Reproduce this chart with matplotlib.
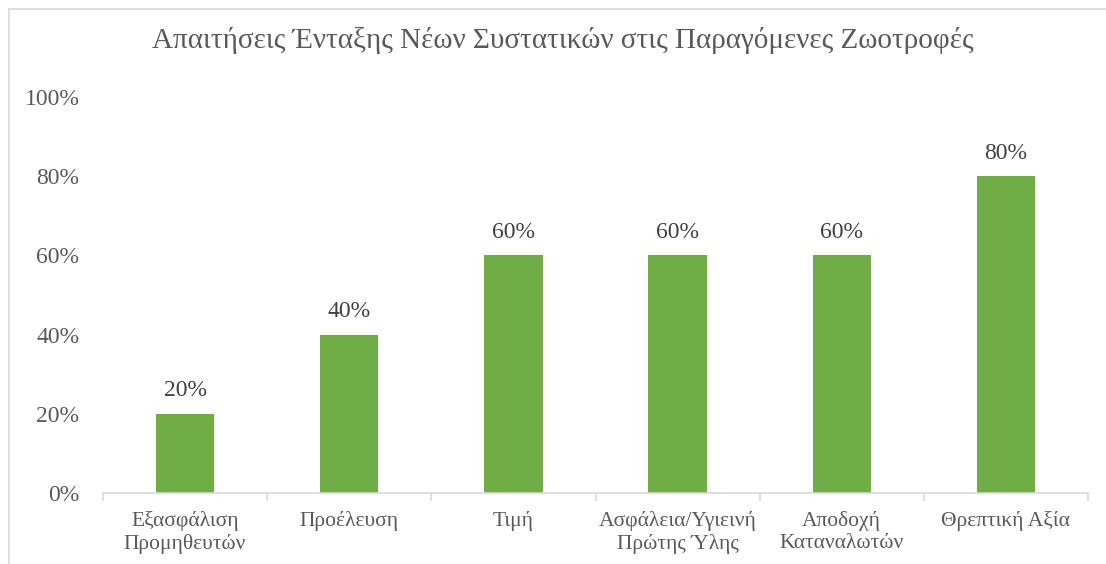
import matplotlib
matplotlib.use("Agg")
import matplotlib.pyplot as plt
from matplotlib.lines import Line2D
from matplotlib.ticker import FixedLocator

categories = [
    "Εξασφάλιση\nΠρομηθευτών",
    "Προέλευση",
    "Τιμή",
    "Ασφάλεια/Υγιεινή\nΠρώτης Ύλης",
    "Αποδοχή\nΚαταναλωτών",
    "Θρεπτική Αξία",
]
values = [0.20, 0.40, 0.60, 0.60, 0.60, 0.80]
y_ticks = [0.0, 0.2, 0.4, 0.6, 0.8, 1.0]
y_tick_labels = ["0%", "20%", "40%", "60%", "80%", "100%"]
title = "Απαιτήσεις Ένταξης Νέων Συστατικών στις Παραγόμενες Ζωοτροφές"

plt.rcParams["font.family"] = ["Liberation Serif", "DejaVu Serif"]

W, H = 1106, 564
fig = plt.figure(figsize=(W / 100, H / 100), dpi=100)
fig.patch.set_facecolor("white")

# chart-area frame (top and left edges visible)
fig.add_artist(Line2D([9 / W, 9 / W], [0, 1 - 9 / H], transform=fig.transFigure,
                      color="#d9d9d9", lw=1.2))
fig.add_artist(Line2D([9 / W, 1], [1 - 9 / H, 1 - 9 / H], transform=fig.transFigure,
                      color="#d9d9d9", lw=1.2))

ax = fig.add_axes([103 / W, 1 - 493 / H, (1088 - 103) / W, (493 - 97) / H])
x = list(range(len(categories)))
ax.bar(x, values, width=0.355, color="#70ad47", zorder=2)

ax.set_xlim(-0.5, len(categories) - 0.5)
ax.set_ylim(0, 1.0)

for s in ["top", "right", "left"]:
    ax.spines[s].set_visible(False)
ax.spines["bottom"].set_color("#d9d9d9")
ax.spines["bottom"].set_linewidth(1.2)

ax.set_yticks(y_ticks)
ax.set_yticklabels(y_tick_labels)
ax.tick_params(axis="y", length=0, pad=17, labelsize=17, labelcolor="#595959")

ax.xaxis.set_major_locator(FixedLocator(x))
ax.set_xticklabels(categories)
ax.xaxis.set_minor_locator(FixedLocator([i - 0.5 for i in range(len(categories) + 1)]))
ax.tick_params(axis="x", which="major", length=0, pad=13, labelsize=15.5,
               labelcolor="#595959")
ax.tick_params(axis="x", which="minor", length=6, color="#d9d9d9", width=1.2)
for lbl in ax.get_xticklabels():
    lbl.set_verticalalignment("top")
    lbl.set_linespacing(1.2)

for xi, v in zip(x, values):
    ax.annotate(f"{v * 100:.0f}%", (xi, v), xytext=(0, 9), textcoords="offset points",
                ha="center", va="bottom", fontsize=17, color="#404040")

fig.text(563 / W, 1 - 48 / H, title, ha="center", va="baseline", fontsize=21,
         color="#595959")

fig.savefig("out.png", dpi=100)
